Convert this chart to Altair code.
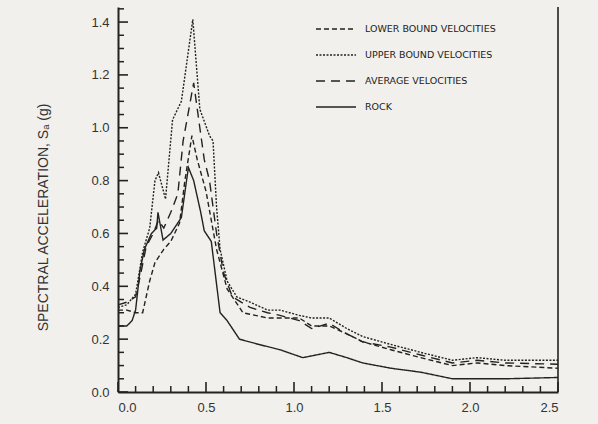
import altair as alt
import pandas as pd

# ---- data ----
rock_x = [0.0, 0.05, 0.08, 0.10, 0.125, 0.15, 0.19, 0.22, 0.227, 0.256, 0.30, 0.36, 0.40, 0.43, 0.47,
          0.49, 0.53, 0.58, 0.62, 0.69, 0.80, 0.92, 1.05, 1.20, 1.30, 1.39, 1.55, 1.72, 1.85, 1.90, 2.0, 2.2, 2.5]
rock_y = [0.25, 0.25, 0.27, 0.31, 0.46, 0.54, 0.60, 0.62, 0.68, 0.575, 0.60, 0.66, 0.85, 0.80, 0.68,
          0.61, 0.57, 0.30, 0.27, 0.20, 0.18, 0.16, 0.13, 0.15, 0.13, 0.11, 0.09, 0.075, 0.057, 0.05, 0.05, 0.05, 0.055]

upper_x = [0.0, 0.05, 0.10, 0.14, 0.18, 0.21, 0.23, 0.27, 0.31, 0.36, 0.425, 0.465, 0.52, 0.54, 0.56, 0.58,
           0.62, 0.675, 0.75, 0.85, 0.92, 1.03, 1.10, 1.20, 1.30, 1.39, 1.55, 1.72, 1.90, 2.04, 2.2, 2.5]
upper_y = [0.32, 0.33, 0.37, 0.53, 0.62, 0.80, 0.83, 0.73, 1.03, 1.10, 1.41, 1.07, 0.97, 0.95, 0.70, 0.54,
           0.42, 0.36, 0.34, 0.31, 0.31, 0.29, 0.28, 0.28, 0.24, 0.21, 0.18, 0.15, 0.12, 0.13, 0.12, 0.12]

lower_x = [0.0, 0.05, 0.10, 0.14, 0.18, 0.21, 0.26, 0.30, 0.35, 0.38, 0.42, 0.45, 0.50, 0.56, 0.62, 0.71,
           0.85, 1.03, 1.10, 1.20, 1.30, 1.39, 1.55, 1.72, 1.90, 2.04, 2.2, 2.5]
lower_y = [0.31, 0.31, 0.30, 0.30, 0.42, 0.49, 0.54, 0.57, 0.64, 0.80, 0.97, 0.88, 0.76, 0.54, 0.39, 0.30,
           0.28, 0.28, 0.25, 0.25, 0.22, 0.19, 0.16, 0.13, 0.10, 0.11, 0.10, 0.09]

avg_x = [0.0, 0.05, 0.10, 0.13, 0.16, 0.20, 0.23, 0.26, 0.30, 0.34, 0.37, 0.43, 0.465, 0.49, 0.52, 0.56,
         0.60, 0.65, 0.75, 0.85, 0.92, 1.03, 1.10, 1.20, 1.30, 1.39, 1.55, 1.72, 1.90, 2.04, 2.2, 2.5]
avg_y = [0.33, 0.34, 0.36, 0.45, 0.55, 0.60, 0.65, 0.62, 0.68, 0.75, 0.95, 1.17, 1.00, 0.88, 0.80, 0.60,
         0.45, 0.36, 0.32, 0.30, 0.29, 0.27, 0.24, 0.26, 0.22, 0.19, 0.17, 0.14, 0.11, 0.12, 0.11, 0.105]

series_names = ["LOWER BOUND VELOCITIES", "UPPER BOUND VELOCITIES", "AVERAGE VELOCITIES", "ROCK"]

x_labels = [0.0, 0.5, 1.0, 1.5, 2.0, 2.5]
y_labels = [0.0, 0.2, 0.4, 0.6, 0.8, 1.0, 1.2, 1.4]
x_minor = [round(0.1 * i, 2) for i in range(26)]
y_minor = [round(0.05 * i, 2) for i in range(30)]

rows = []
for name, xs_, ys_ in [(series_names[0], lower_x, lower_y), (series_names[1], upper_x, upper_y),
                       (series_names[2], avg_x, avg_y), (series_names[3], rock_x, rock_y)]:
    for i, (a, b) in enumerate(zip(xs_, ys_)):
        rows.append({"series": name, "T": a, "Sa": b, "i": i})
df = pd.DataFrame(rows)

INK = "#222222"
W, H = 440, 385
xs = alt.Scale(domain=[0, 2.5], nice=False, zero=False)
ys = alt.Scale(domain=[0, 1.457], nice=False)

lines = alt.Chart(df).mark_line(strokeWidth=1.4, color=INK).encode(
    x=alt.X("T:Q", scale=xs,
            axis=alt.Axis(values=x_labels, format=".1f", tickSize=0, labelPadding=9, grid=False,
                          title=None, domainWidth=2, domainColor=INK)),
    y=alt.Y("Sa:Q", scale=ys,
            axis=alt.Axis(values=y_labels, format=".1f", tickSize=0, labelPadding=9, grid=False,
                          title="SPECTRAL ACCELERATION,  Sₐ  (g)", titleFontSize=14,
                          titleFontWeight="normal", titleColor="#333333", titleX=-68, titleY=210,
                          domainWidth=2, domainColor=INK)),
    strokeDash=alt.StrokeDash("series:N",
        scale=alt.Scale(domain=series_names, range=[[5, 3], [2, 1.5], [9, 6], [1, 0]]),
        legend=alt.Legend(title=None, orient="none", legendX=197, legendY=1, symbolType="stroke",
                          symbolSize=1600, symbolStrokeWidth=1.4, symbolStrokeColor=INK,
                          labelFont="DejaVu Sans", labelFontSize=9.5, labelColor="#222222",
                          labelOffset=8, rowPadding=0)),
    order="i:Q",
)

ydf = pd.DataFrame({"v": y_minor})
ydf["major"] = [abs(v / 0.2 - round(v / 0.2)) < 1e-6 for v in y_minor]
xdf = pd.DataFrame({"v": x_minor})
xdf["major"] = [abs(v / 0.5 - round(v / 0.5)) < 1e-6 for v in x_minor]

y_ticks_minor = alt.Chart(ydf[~ydf["major"]]).mark_rule(color=INK, strokeWidth=1.5).encode(
    y=alt.Y("v:Q", scale=ys), x=alt.value(0), x2=alt.value(6))
y_ticks_major = alt.Chart(ydf[ydf["major"]]).mark_rule(color=INK, strokeWidth=1.6).encode(
    y=alt.Y("v:Q", scale=ys), x=alt.value(0), x2=alt.value(10))
x_ticks_minor = alt.Chart(xdf[~xdf["major"]]).mark_rule(color=INK, strokeWidth=1.5).encode(
    x=alt.X("v:Q", scale=xs), y=alt.value(H), y2=alt.value(H - 6))
x_ticks_major = alt.Chart(xdf[xdf["major"]]).mark_rule(color=INK, strokeWidth=1.6).encode(
    x=alt.X("v:Q", scale=xs), y=alt.value(H), y2=alt.value(H - 10))
right_edge = alt.Chart(pd.DataFrame({"v": [2.5]})).mark_rule(color=INK, strokeWidth=1.6).encode(
    x=alt.X("v:Q", scale=xs), y=alt.value(0), y2=alt.value(H))

chart = alt.layer(lines, y_ticks_minor, y_ticks_major, x_ticks_minor, x_ticks_major, right_edge).properties(
    width=W, height=H, background="#f1f0ec",
    padding={"left": 118, "top": 7, "right": 40, "bottom": 32},
    autosize=alt.AutoSizeParams(type="none"),
).configure_view(stroke=None).configure_axis(
    labelFont="Liberation Sans", labelFontSize=13, labelColor="#333333", titleFont="Liberation Sans",
)

chart.save("out.html", embed_options={"renderer": "svg", "actions": False})
